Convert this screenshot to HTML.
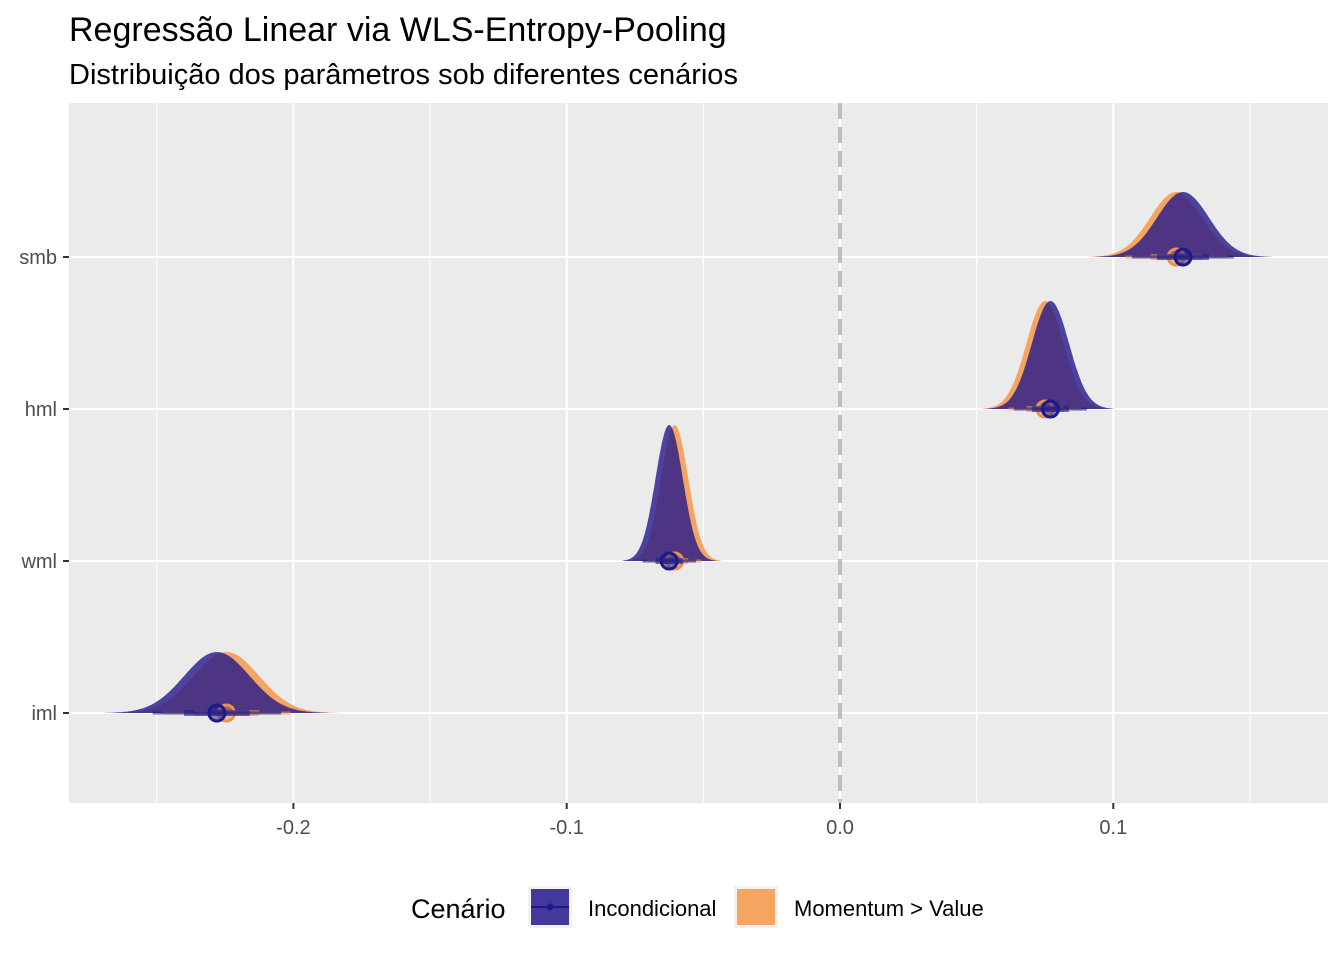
<!DOCTYPE html>
<html><head><meta charset="utf-8"><style>
body{margin:0;background:#fff;font-family:"Liberation Sans",sans-serif}
</style></head><body>
<svg id="c" width="1344" height="960" xmlns="http://www.w3.org/2000/svg">
<text x="69" y="41" font-size="34" fill="#000">Regressão Linear via WLS-Entropy-Pooling</text>
<text x="69" y="84" font-size="29" fill="#000">Distribuição dos parâmetros sob diferentes cenários</text>
<rect x="69" y="103" width="1259" height="700" fill="#ebebeb"/>
<g id="grid"></g><g id="marks"></g><g id="axes"></g>
<g>
<text x="411" y="918" font-size="27">Cenário</text>
<g>
<rect x="528" y="886" width="44" height="42" fill="#f2f2f2"/>
<rect x="531" y="889" width="38" height="36" fill="rgb(35,25,140)" opacity="0.85"/>
<line x1="531" y1="907" x2="569" y2="907" stroke="#1a1a8c" stroke-width="2"/>
<circle cx="550" cy="907" r="3.5" fill="#1a1a8c"/>
<text x="588" y="916" font-size="22">Incondicional</text></g>
<g>
<rect x="734" y="886" width="44" height="42" fill="#f2f2f2"/>
<rect x="737" y="889" width="38" height="36" fill="#f5a560"/>
<line x1="737" y1="907" x2="775" y2="907" stroke="#f5a560" stroke-width="2"/>
<circle cx="756" cy="907" r="3.5" fill="#f5a560"/>
<text x="794" y="916" font-size="22">Momentum &gt; Value</text></g>
</g>
</svg>
<script>
const categories=["smb","hml","wml","iml"];
const meanInc=[0.1255,0.077,-0.0625,-0.228];
const meanMom=[0.123,0.075,-0.0605,-0.2245];
const sdVals=[0.0095,0.0068,0.005,0.012];
const peakPx=[65,108,136,61];
const xTicks=[-0.2,-0.1,0.0,0.1];
const xTickLabels=["-0.2","-0.1","0.0","0.1"];
const NS="http://www.w3.org/2000/svg";
const X=v=>840+v*2733;
const Y=i=>257+i*152;
function mk(tag,attrs,parent){const e=document.createElementNS(NS,tag);for(const k in attrs)e.setAttribute(k,attrs[k]);parent.appendChild(e);return e;}
const grid=document.getElementById('grid'),marks=document.getElementById('marks'),axes=document.getElementById('axes');
for(let i=0;i<xTicks.length+1;i++){const v=xTicks[0]-0.05+i*0.1;const gx=X(v);
 if(gx>69&&gx<1328){const l=mk('line',{x1:gx,x2:gx,y1:103,y2:803,stroke:'#fff','stroke-width':1},grid);
 }}
xTicks.forEach((v,i)=>{const gx=X(v);
 const l=mk('line',{x1:gx,x2:gx,y1:103,y2:803,stroke:'#fff','stroke-width':2},grid);
 
 mk('line',{x1:gx,x2:gx,y1:803,y2:809,stroke:'#333','stroke-width':2},axes);
 const t=mk('text',{x:gx,y:834,'font-size':20,'text-anchor':'middle',fill:'#4d4d4d'},axes);t.textContent=xTickLabels[i];
 });
categories.forEach((c,i)=>{const y=Y(i);
 const l=mk('line',{x1:69,x2:1328,y1:y,y2:y,stroke:'#fff','stroke-width':2},grid);
 
 mk('line',{x1:63,x2:69,y1:y,y2:y,stroke:'#333','stroke-width':2},axes);
 const t=mk('text',{x:57,y:y+7,'font-size':20,'text-anchor':'end',fill:'#4d4d4d'},axes);t.textContent=c;
 });
const z=mk('line',{x1:X(0),x2:X(0),y1:103,y2:803,stroke:'#bebebe','stroke-width':4,'stroke-dasharray':'16,8'},grid);

const K=3.4;
function dens(m,sd,i,fill,op,name){const y=Y(i);let d=`M${X(m-K*sd)},${y}`;
 for(let k=0;k<=160;k++){const v=m-K*sd+k*2*K*sd/160;const h=peakPx[i]*Math.exp(-0.5*((v-m)/sd)**2);d+=`L${X(v).toFixed(1)},${(y-h).toFixed(1)}`;}
 d+=`L${X(m+K*sd)},${y}Z`;const p=mk('path',{d,fill,opacity:op},marks);
 }
function interval(m,sd,i,col,name){const y=Y(i);const g=mk('g',{},marks);
 
 mk('line',{x1:X(m-1.96*sd),x2:X(m+1.96*sd),y1:y,y2:y,stroke:col,'stroke-width':3,'stroke-opacity':0.6},g);
 mk('line',{x1:X(m-sd),x2:X(m+sd),y1:y,y2:y,stroke:col,'stroke-width':6,'stroke-opacity':0.6},g);
 mk('circle',{cx:X(m),cy:y,r:8,fill:col,'fill-opacity':0.5,stroke:col,'stroke-width':3},g);}
categories.forEach((c,i)=>{
 dens(meanMom[i],sdVals[i],i,'#f5a560',1,'density-momentum-'+c);
 dens(meanInc[i],sdVals[i],i,'rgb(35,25,140)',0.8,'density-incondicional-'+c);
 interval(meanMom[i],sdVals[i],i,'#e8944f','interval-momentum-'+c);
 interval(meanInc[i],sdVals[i],i,'#1a1a8c','interval-incondicional-'+c);});
</script>
</body></html>
